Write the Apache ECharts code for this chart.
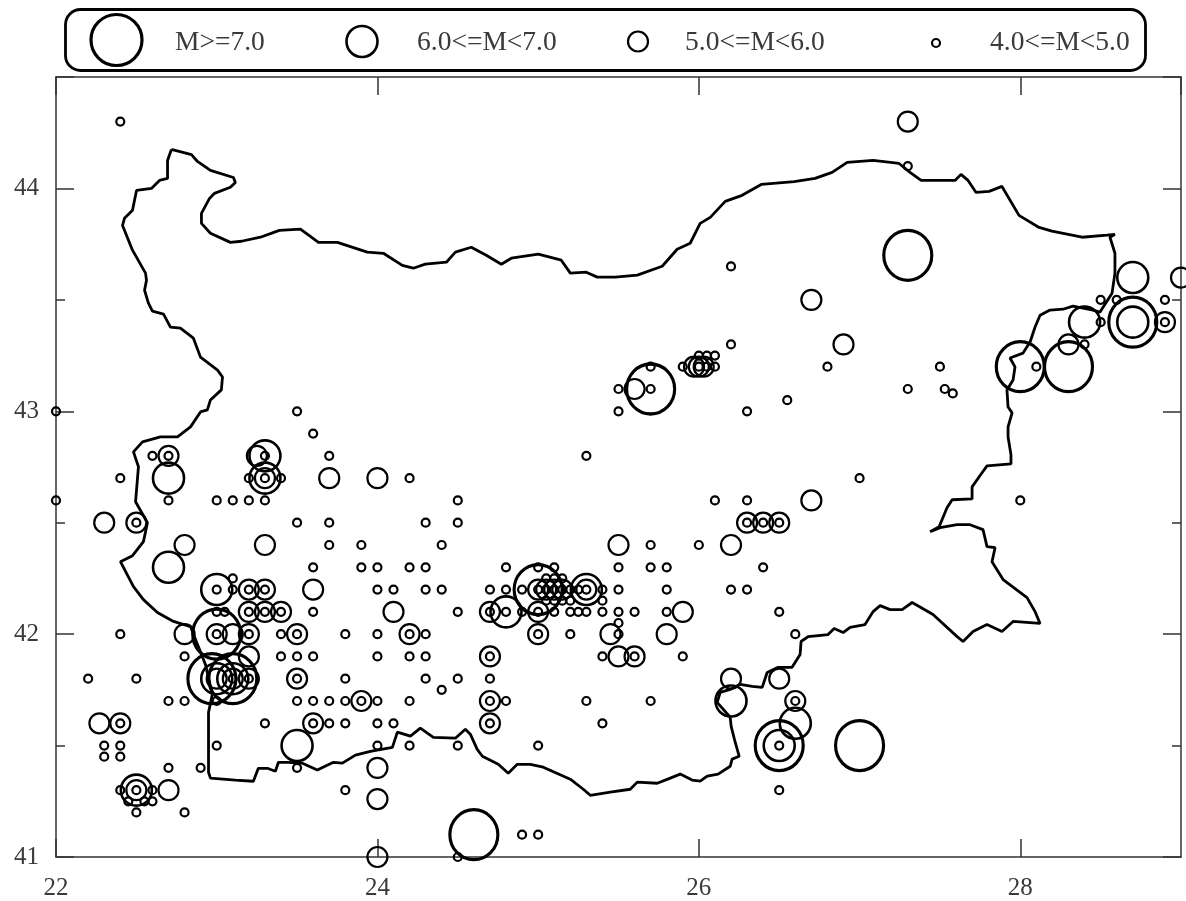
<!DOCTYPE html>
<html>
<head>
<meta charset="utf-8">
<style>html,body{margin:0;padding:0;background:#fff}#c{width:1186px;height:901px}</style>
<script src="https://cdn.jsdelivr.net/npm/echarts@6/dist/echarts.min.js"></script>
</head>
<body>
<div id="c"></div>
<script>
const legendLabels = ['M>=7.0', '6.0<=M<7.0', '5.0<=M<6.0', '4.0<=M<5.0'];
const xTicks = [22, 24, 26, 28];
const yTicks = [41, 42, 43, 44];

const quakesM7 = [[27.3,43.7],[28.7,43.4],[28.0,43.2],[28.3,43.2],[25.7,43.1],[25.0,42.2],[23.0,42.0],[22.97,41.8],[23.1,41.8],[26.5,41.5],[27.0,41.5],[24.6,41.1]];

const quakesM6 = [[28.7,43.6],[28.7,43.4],[28.4,43.4],[26.5,41.5],[26.6,41.6],[26.2,41.7],[25.3,42.2],[24.8,42.1],[23.3,42.8],[23.3,42.7],[22.7,42.7],[22.7,42.3],[23.0,42.2],[23.5,41.5],[23.0,41.8],[23.1,41.8],[22.5,41.3]];

const quakesM5 = [[29.0,43.6],[28.3,43.3],[28.9,43.4],[26.9,43.3],[26.7,43.5],[27.3,44.3],[25.6,43.1],[25.97,43.2],[26.0,43.2],[26.03,43.2],[26.7,42.6],[26.3,42.5],[26.4,42.5],[26.5,42.5],[26.2,42.4],[25.5,42.4],[25.9,42.1],[25.8,42.0],[25.45,42.0],[25.5,41.9],[25.6,41.9],[26.2,41.8],[26.5,41.8],[26.6,41.7],[25.0,42.2],[25.05,42.2],[25.1,42.2],[25.15,42.2],[25.3,42.2],[25.0,42.1],[25.0,42.0],[24.7,42.1],[24.7,41.9],[24.7,41.7],[24.7,41.6],[24.1,42.1],[24.2,42.0],[24.0,42.7],[23.7,42.7],[23.6,42.2],[23.3,42.4],[22.8,42.4],[22.3,42.5],[22.5,42.5],[22.7,42.8],[23.25,42.8],[23.3,42.7],[23.2,42.2],[23.3,42.2],[23.2,42.1],[23.3,42.1],[23.4,42.1],[23.5,42.0],[23.0,42.0],[23.1,42.0],[23.2,42.0],[22.8,42.0],[23.2,41.9],[23.0,41.8],[23.1,41.8],[23.2,41.8],[23.5,41.8],[23.9,41.7],[23.6,41.6],[22.27,41.6],[22.4,41.6],[22.7,41.3],[22.5,41.3],[24.0,41.4],[24.0,41.26],[24.0,41.0]];

const quakesM4 = [[22.4,44.3],[27.3,44.1],[26.2,43.65],[28.5,43.5],[28.6,43.5],[28.9,43.5],[28.5,43.4],[28.9,43.4],[28.4,43.3],[26.2,43.3],[26.1,43.25],[26.0,43.25],[26.05,43.25],[25.9,43.2],[26.0,43.2],[26.05,43.2],[26.1,43.2],[25.7,43.2],[26.8,43.2],[27.5,43.2],[28.1,43.2],[25.5,43.1],[25.7,43.1],[27.3,43.1],[27.53,43.1],[27.58,43.08],[26.55,43.05],[22.0,43.0],[23.5,43.0],[25.5,43.0],[26.3,43.0],[23.6,42.9],[22.6,42.8],[22.7,42.8],[23.3,42.8],[23.7,42.8],[25.3,42.8],[22.4,42.7],[23.2,42.7],[23.3,42.7],[23.4,42.7],[24.2,42.7],[27.0,42.7],[22.0,42.6],[22.7,42.6],[23.0,42.6],[23.1,42.6],[23.2,42.6],[23.3,42.6],[24.5,42.6],[26.1,42.6],[26.3,42.6],[28.0,42.6],[22.5,42.5],[23.5,42.5],[23.7,42.5],[24.3,42.5],[24.5,42.5],[26.3,42.5],[26.4,42.5],[26.5,42.5],[23.7,42.4],[23.9,42.4],[24.4,42.4],[25.7,42.4],[26.0,42.4],[23.6,42.3],[23.9,42.3],[24.0,42.3],[24.2,42.3],[24.3,42.3],[24.8,42.3],[25.0,42.3],[25.1,42.3],[25.5,42.3],[25.7,42.3],[25.8,42.3],[26.4,42.3],[23.1,42.25],[23.0,42.2],[23.1,42.2],[23.2,42.2],[23.3,42.2],[24.0,42.2],[24.1,42.2],[24.3,42.2],[24.4,42.2],[24.7,42.2],[24.8,42.2],[24.9,42.2],[25.0,42.2],[25.05,42.2],[25.1,42.2],[25.15,42.2],[25.2,42.2],[25.25,42.2],[25.3,42.2],[25.4,42.2],[25.5,42.2],[25.8,42.2],[26.2,42.2],[26.3,42.2],[25.05,42.25],[25.1,42.25],[25.15,42.25],[25.05,42.15],[25.1,42.15],[25.15,42.15],[25.2,42.15],[25.4,42.15],[23.0,42.1],[23.05,42.1],[23.2,42.1],[23.3,42.1],[23.4,42.1],[23.6,42.1],[24.5,42.1],[24.7,42.1],[24.8,42.1],[24.9,42.1],[25.0,42.1],[25.1,42.1],[25.2,42.1],[25.25,42.1],[25.3,42.1],[25.4,42.1],[25.5,42.1],[25.6,42.1],[25.8,42.1],[26.5,42.1],[25.5,42.05],[22.4,42.0],[23.0,42.0],[23.2,42.0],[23.4,42.0],[23.5,42.0],[23.8,42.0],[24.0,42.0],[24.2,42.0],[24.3,42.0],[25.0,42.0],[25.2,42.0],[25.5,42.0],[26.6,42.0],[22.8,41.9],[23.4,41.9],[23.5,41.9],[23.6,41.9],[24.0,41.9],[24.2,41.9],[24.3,41.9],[24.7,41.9],[25.4,41.9],[25.6,41.9],[25.9,41.9],[22.2,41.8],[22.5,41.8],[23.1,41.8],[23.2,41.8],[23.5,41.8],[23.8,41.8],[24.3,41.8],[24.5,41.8],[24.7,41.8],[24.4,41.75],[22.7,41.7],[22.8,41.7],[23.0,41.7],[23.5,41.7],[23.6,41.7],[23.7,41.7],[23.8,41.7],[23.9,41.7],[24.0,41.7],[24.2,41.7],[24.7,41.7],[24.8,41.7],[25.3,41.7],[25.7,41.7],[26.6,41.7],[22.4,41.6],[23.3,41.6],[23.6,41.6],[23.7,41.6],[23.8,41.6],[24.0,41.6],[24.1,41.6],[24.7,41.6],[25.4,41.6],[22.3,41.5],[22.4,41.5],[23.0,41.5],[24.0,41.5],[24.2,41.5],[24.5,41.5],[25.0,41.5],[26.5,41.5],[22.3,41.45],[22.4,41.45],[22.7,41.4],[22.9,41.4],[23.5,41.4],[22.4,41.3],[22.5,41.3],[22.6,41.3],[23.8,41.3],[26.5,41.3],[22.45,41.25],[22.55,41.25],[22.6,41.25],[22.5,41.2],[22.8,41.2],[24.9,41.1],[25.0,41.1],[24.5,41.0]];

const borderLonLat = [[22.718,44.175],[22.843,44.152],[22.880,44.121],[22.961,44.081],[23.104,44.049],[23.116,44.027],[23.085,44.005],[22.986,43.978],[22.955,43.955],[22.905,43.888],[22.905,43.843],[22.961,43.799],[23.085,43.758],[23.154,43.763],[23.272,43.781],[23.390,43.812],[23.521,43.817],[23.633,43.758],[23.751,43.758],[23.937,43.714],[24.037,43.709],[24.155,43.655],[24.223,43.642],[24.298,43.660],[24.429,43.669],[24.485,43.714],[24.584,43.736],[24.677,43.700],[24.771,43.660],[24.833,43.687],[25.001,43.705],[25.144,43.678],[25.200,43.620],[25.299,43.624],[25.368,43.602],[25.480,43.602],[25.617,43.611],[25.772,43.651],[25.865,43.727],[25.946,43.754],[26.008,43.843],[26.071,43.870],[26.164,43.942],[26.269,43.969],[26.388,44.018],[26.593,44.031],[26.723,44.045],[26.829,44.072],[26.923,44.117],[27.084,44.126],[27.246,44.112],[27.314,44.072],[27.383,44.036],[27.594,44.036],[27.631,44.063],[27.675,44.036],[27.725,43.982],[27.806,43.987],[27.886,44.009],[27.992,43.879],[28.117,43.825],[28.197,43.808],[28.384,43.781],[28.539,43.790],[28.589,43.794],[28.558,43.781],[28.589,43.709],[28.589,43.620],[28.571,43.530],[28.496,43.445],[28.452,43.454],[28.328,43.472],[28.266,43.458],[28.185,43.454],[28.123,43.431],[28.092,43.378],[28.061,43.311],[28.017,43.261],[27.936,43.239],[27.967,43.199],[27.955,43.140],[27.917,43.096],[27.924,43.019],[27.949,42.993],[27.924,42.930],[27.924,42.885],[27.942,42.805],[27.942,42.764],[27.793,42.755],[27.762,42.724],[27.700,42.661],[27.700,42.607],[27.576,42.603],[27.544,42.567],[27.495,42.482],[27.439,42.460],[27.501,42.478],[27.607,42.491],[27.687,42.491],[27.768,42.469],[27.793,42.393],[27.843,42.388],[27.824,42.325],[27.893,42.245],[28.042,42.164],[28.092,42.101],[28.123,42.048],[27.955,42.057],[27.886,42.012],[27.793,42.043],[27.706,42.012],[27.644,41.967],[27.607,41.989],[27.457,42.088],[27.327,42.142],[27.265,42.110],[27.190,42.110],[27.128,42.128],[27.084,42.101],[27.034,42.043],[26.941,42.030],[26.898,42.007],[26.842,42.025],[26.804,41.998],[26.680,41.989],[26.636,41.967],[26.630,41.909],[26.580,41.851],[26.493,41.851],[26.425,41.828],[26.394,41.761],[26.332,41.766],[26.257,41.775],[26.195,41.752],[26.133,41.739],[26.114,41.694],[26.195,41.627],[26.201,41.586],[26.226,41.515],[26.251,41.452],[26.207,41.439],[26.195,41.407],[26.120,41.372],[26.052,41.363],[26.008,41.340],[25.958,41.345],[25.884,41.372],[25.822,41.354],[25.741,41.331],[25.617,41.336],[25.573,41.304],[25.449,41.291],[25.324,41.277],[25.281,41.304],[25.200,41.349],[25.032,41.403],[24.951,41.416],[24.870,41.416],[24.814,41.376],[24.752,41.416],[24.653,41.452],[24.621,41.483],[24.578,41.551],[24.547,41.573],[24.485,41.533],[24.348,41.537],[24.267,41.578],[24.205,41.542],[24.124,41.560],[24.093,41.492],[23.956,41.474],[23.863,41.457],[23.782,41.421],[23.726,41.425],[23.626,41.390],[23.533,41.421],[23.440,41.425],[23.384,41.425],[23.365,41.385],[23.315,41.398],[23.259,41.398],[23.228,41.340],[23.116,41.345],[22.961,41.354],[22.949,41.380],[22.949,41.649],[22.973,41.730],[22.930,41.864],[22.880,41.954],[22.837,42.034],[22.731,42.057],[22.631,42.097],[22.544,42.155],[22.482,42.213],[22.401,42.325],[22.476,42.352],[22.544,42.415],[22.569,42.500],[22.495,42.594],[22.513,42.751],[22.482,42.818],[22.538,42.863],[22.650,42.885],[22.756,42.885],[22.837,42.930],[22.899,42.997],[22.942,43.006],[22.961,43.051],[23.029,43.096],[23.036,43.154],[23.005,43.185],[22.899,43.243],[22.855,43.328],[22.774,43.373],[22.712,43.378],[22.669,43.436],[22.600,43.449],[22.575,43.485],[22.551,43.543],[22.563,43.588],[22.557,43.620],[22.476,43.723],[22.414,43.834],[22.426,43.866],[22.476,43.902],[22.501,43.991],[22.594,44.000],[22.644,44.036],[22.694,44.045],[22.694,44.125],[22.718,44.175]];

const chart = echarts.init(document.getElementById('c'), null, {renderer: 'canvas'});
const serif = '"Liberation Serif","Times New Roman",serif';
const textColor = '#3a3a3a';

function ring(name, data, size, width) {
  return {
    name, type: 'scatter', data, symbol: 'circle', symbolSize: size, clip: false, silent: true,
    itemStyle: {color: 'transparent', borderColor: '#000', borderWidth: width, opacity: 1}
  };
}
function xAxisOf(pos, labels) {
  return {
    type: 'value', position: pos, min: 22, max: 29, interval: 2, scale: true, splitLine: {show: false},
    axisLine: {onZero: false, lineStyle: {color: '#333', width: 1.5}},
    axisTick: {inside: true, length: 18, lineStyle: {color: '#333', width: 1.5}},
    axisLabel: labels ? {show: true, fontFamily: serif, fontSize: 25, color: textColor, margin: 19, showMaxLabel: false,
      formatter: v => xTicks.includes(v) ? String(v) : ''} : {show: false}
  };
}
function yAxisOf(pos, labels) {
  return {
    type: 'value', position: pos, min: 41, max: 44.5, interval: 1, scale: true, splitLine: {show: false},
    axisLine: {onZero: false, lineStyle: {color: '#333', width: 1.5}},
    axisTick: {inside: true, length: 18, lineStyle: {color: '#333', width: 1.5}},
    minorTick: {show: true, splitNumber: 2, length: 9, lineStyle: {color: '#333', width: 1.5}},
    axisLabel: labels ? {show: true, fontFamily: serif, fontSize: 25, color: textColor, margin: 17, showMaxLabel: false,
      formatter: v => yTicks.includes(v) ? String(v) : ''} : {show: false}
  };
}
const legendRing = (x, y, d, w) => ({
  type: 'circle', shape: {cx: x, cy: y, r: d / 2},
  style: {fill: 'transparent', stroke: '#000', lineWidth: w}
});
const legendText = (x, label) => ({
  type: 'text', x: x, y: 43,
  style: {text: label, fontFamily: serif, fontSize: 27.5, fill: textColor, verticalAlign: 'middle', align: 'left'}
});

chart.setOption({
  animation: false,
  backgroundColor: '#fff',
  grid: {left: 56, right: 5, top: 77, bottom: 43, containLabel: false},
  xAxis: [xAxisOf('bottom', true), xAxisOf('top', false)],
  yAxis: [yAxisOf('left', true), yAxisOf('right', false)],
  series: [
    {name: 'border', type: 'line', data: borderLonLat, showSymbol: false, symbol: 'none', smooth: false, silent: true,
      lineStyle: {color: '#000', width: 2.8}, clip: false},
    ring(legendLabels[0], quakesM7, [48, 50], 3.2),
    ring(legendLabels[1], quakesM6, 31, 2.6),
    ring(legendLabels[2], quakesM5, 20, 2.2),
    ring(legendLabels[3], quakesM4, 8, 2.2)
  ],
  graphic: [
    {type: 'rect', shape: {x: 65.5, y: 9.5, width: 1080, height: 61, r: 15},
      style: {fill: '#fff', stroke: '#000', lineWidth: 2.8}},
    legendRing(116.5, 40, 51, 3.2),
    legendRing(362, 41.5, 31, 2.6),
    legendRing(638, 41.5, 20, 2.2),
    legendRing(936, 43, 8, 2.2),
    legendText(175, legendLabels[0]),
    legendText(417, legendLabels[1]),
    legendText(685, legendLabels[2]),
    legendText(990, legendLabels[3])
  ]
});
</script>
</body>
</html>
